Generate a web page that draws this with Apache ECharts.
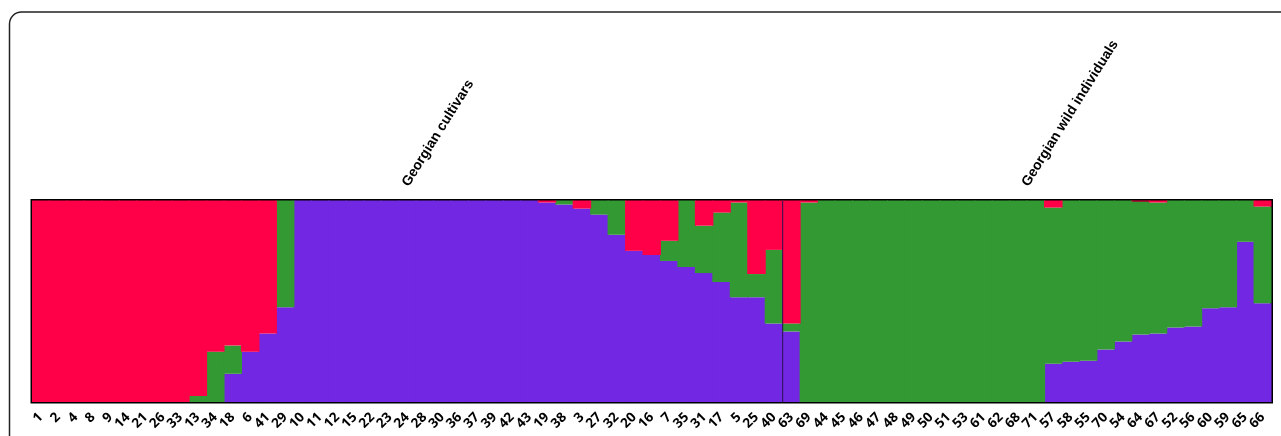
<!DOCTYPE html>
<html>
<head>
<meta charset="utf-8">
<script src="https://cdn.jsdelivr.net/npm/echarts@6/dist/echarts.min.js"></script>
<style>
  html, body { margin: 0; padding: 0; background: #fff; }
  #main { width: 1281px; height: 436px; }
</style>
</head>
<body>
<div id="main"></div>
<script>
// sample ids, in plot order
var samples = ['1','2','4','8','9','14','21','26','33','13','34','18','6','41','29',
  '10','11','12','15','22','23','24','28','30','36','37','39','42','43',
  '19','38','3','27','32','20','16','7','35','31','17','5','25','40',
  '63','69','44','45','46','47','48','49','50','51','53','61','62','68','71',
  '57','58','55','70','54','64','67','52','56','60','59','65','66']

// membership in each cluster
var purple = [0,0,0,0,0,0,0,0,0,0,0,0.14,0.25,0.34,0.47,
  1,1,1,1,1,1,1,1,1,1,1,1,1,1,
  0.99,0.98,0.96,0.93,0.83,0.75,0.73,0.70,0.67,0.64,0.595,0.52,0.52,0.39,
  0.35,0,0,0,0,0,0,0,0,0,0,0,0,0,0,
  0.19,0.20,0.205,0.26,0.30,0.335,0.34,0.37,0.375,0.465,0.47,0.795,0.49]
var green = [0,0,0,0,0,0,0,0,0,0.03,0.25,0.14,0,0,0.53,
  0,0,0,0,0,0,0,0,0,0,0,0,0,0,
  0,0.02,0,0.07,0.17,0,0,0.10,0.33,0.235,0.345,0.47,0.115,0.365,
  0.04,0.99,1,1,1,1,1,1,1,1,1,1,1,1,1,
  0.775,0.80,0.795,0.74,0.70,0.66,0.65,0.63,0.625,0.535,0.53,0.205,0.48]
var red = [1,1,1,1,1,1,1,1,1,0.97,0.75,0.72,0.75,0.66,0,
  0,0,0,0,0,0,0,0,0,0,0,0,0,0,
  0.01,0,0.04,0,0,0.25,0.27,0.20,0,0.125,0.06,0.01,0.365,0.245,
  0.61,0.01,0,0,0,0,0,0,0,0,0,0,0,0,0,
  0.035,0,0,0,0,0.005,0.01,0,0,0,0,0,0.03]

// groups: first and last sample of each
var groups = [
  { name: 'Georgian cultivars', from: '1', to: '40' },
  { name: 'Georgian wild individuals', from: '63', to: '66' }
]

var myChart = echarts.init(document.getElementById('main'))

function barSeries(name, data, color) {
  return {
    name: name,
    type: 'bar',
    stack: 'q',
    data: data,
    // a touch wider than the band so neighbours overlap, no hairline seams
    barWidth: '106%',
    itemStyle: { color: color },
    animation: false,
    silent: true
  }
}

myChart.setOption({
  animation: false,
  grid: {
    left: 32,
    right: 9.5,
    top: 200.5,
    bottom: 34,
    show: true,
    borderColor: '#000',
    borderWidth: 3,
    backgroundColor: 'transparent'
  },
  xAxis: {
    type: 'category',
    data: samples,
    boundaryGap: true,
    axisLine: { show: false },
    axisTick: { show: false },
    axisLabel: {
      interval: 0,
      rotate: 45,
      margin: 13,
      fontSize: 13.5,
      fontWeight: 'bold',
      fontFamily: 'Open Sans',
      color: '#000'
    }
  },
  yAxis: {
    type: 'value',
    min: 0,
    max: 1,
    show: false
  },
  series: [
    barSeries('K1', purple, '#7228E2'),
    barSeries('K2', green, '#339933'),
    barSeries('K3', red, '#FF0048')
  ]
})

// separator and group labels placed from the axis scale
function px(name) {
  return myChart.convertToPixel({ xAxisIndex: 0 }, name)
}
var gridTop = 200.5, gridBottom = 436 - 34
var sepX = (px('40') + px('63')) / 2
var graphics = [
  {
    type: 'rect',
    shape: { x: 9.5, y: 12, width: 1320, height: 480, r: 12 },
    style: { fill: 'none', stroke: '#222', lineWidth: 1.5 },
    silent: true
  },
  {
    type: 'line',
    shape: { x1: sepX, y1: gridTop, x2: sepX, y2: gridBottom },
    style: { stroke: '#2a1050', lineWidth: 1 },
    z: 10,
    silent: true
  }
]
groups.forEach(function (g) {
  var cx = (px(g.from) + px(g.to)) / 2
  graphics.push({
    type: 'text',
    x: cx + 4,
    y: 189,
    rotation: 58 * Math.PI / 180,
    style: {
      text: g.name,
      font: 'bold 14px "Liberation Sans", Arial, sans-serif',
      fill: '#000',
      textAlign: 'left',
      textVerticalAlign: 'bottom'
    },
    silent: true
  })
})
myChart.setOption({ graphic: graphics })
</script>
</body>
</html>
